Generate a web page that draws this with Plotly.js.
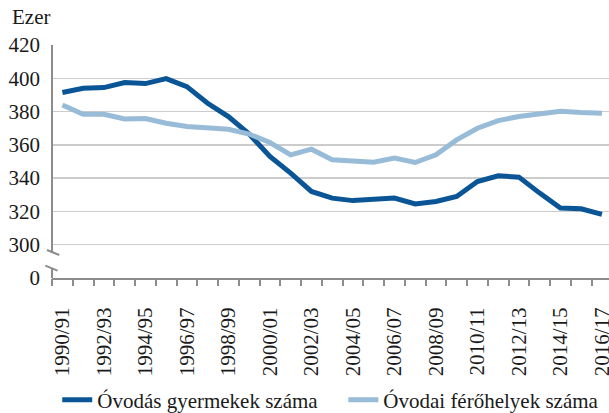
<!DOCTYPE html>
<html>
<head>
<meta charset="utf-8">
<script src="https://cdn.plot.ly/plotly-3.0.1.min.js"></script>
<style>html,body{margin:0;padding:0;background:#fff;}#chart{width:609px;height:413px;}
#chart svg text{font-family:"Liberation Serif",serif !important;}</style>
</head>
<body>
<div id="chart"></div>
<script>
const years = ["1990/91","1991/92","1992/93","1993/94","1994/95","1995/96","1996/97","1997/98","1998/99","1999/00","2000/01","2001/02","2002/03","2003/04","2004/05","2005/06","2006/07","2007/08","2008/09","2009/10","2010/11","2011/12","2012/13","2013/14","2014/15","2015/16","2016/17"];
const gyermekek = [391.5,394,394.4,397.4,396.8,399.8,395,385,377,366.5,353,343,332,328,326.5,327,328,324.5,326,329,338,341.4,340.6,331,322,321.6,318.2];
const ferohelyek = [384,378.4,378.4,375.6,375.8,373,371,370,369.4,366.5,361.4,354,357.4,351,350.4,349.6,352,349.4,354,363,370,374.6,377,378.6,380.2,379.4,379];
const yTickVals = [280,300,320,340,360,380,400,420];
const yTickText = ["0","300","320","340","360","380","400","420"];
const seriesNames = ["Óvodás gyermekek száma","Óvodai férőhelyek száma"];

const idx = years.map((_, i) => i);
const labelIdx = idx.filter(i => i % 2 === 0);
const boundaries = [];
for (let i = 0; i <= years.length; i++) boundaries.push(i - 0.5);

function mkFont(size) { return {family: "Liberation Serif", size: size || 21, color: "#1a1a1a"}; }
const axisGray = "#8c8c8c";

const traces = [
  {x: idx, y: gyermekek, name: seriesNames[0], type: "scatter", mode: "lines",
   line: {color: "#0a5596", width: 5}, legend: "legend"},
  {x: idx, y: ferohelyek, name: seriesNames[1], type: "scatter", mode: "lines",
   line: {color: "#98bcd8", width: 5}, legend: "legend2"},
  {x: [0], y: [350], xaxis: "x2", type: "scatter", mode: "markers", marker: {opacity: 0}, showlegend: false, hoverinfo: "skip"}
];

const xr = [-0.5, 26.34];
const yBreakLow = 286, yBreakHigh = 295.6;
const layout = {
  width: 609, height: 413,
  margin: {l: 52, r: 0, t: 45, b: 135, autoexpand: false},
  paper_bgcolor: "#fff", plot_bgcolor: "#fff",
  font: mkFont(),
  showlegend: true,
  legend: {orientation: "h", x: 0.0094, xanchor: "left", y: -0.524, yanchor: "middle", font: mkFont(),
           bgcolor: "rgba(0,0,0,0)"},
  legend2: {orientation: "h", x: 0.523, xanchor: "left", y: -0.524, yanchor: "middle", font: mkFont(),
            bgcolor: "rgba(0,0,0,0)"},
  xaxis: {range: xr, tickmode: "array", tickvals: labelIdx, ticktext: labelIdx.map(i => years[i]),
          tickangle: -90, ticks: "", showgrid: false, zeroline: false, ticklabeloverflow: "allow",
          ticklabelstandoff: 19,
          showline: true, linecolor: axisGray, linewidth: 2, tickfont: mkFont(), fixedrange: true},
  xaxis2: {range: xr, overlaying: "x", anchor: "y", side: "bottom", tickmode: "array", tickvals: boundaries,
           showticklabels: false, ticks: "outside", ticklen: 7, tickwidth: 2, tickcolor: axisGray,
           showgrid: false, zeroline: false, showline: false},
  yaxis: {range: [280, 420], tickmode: "array", tickvals: yTickVals, ticktext: yTickText,
          ticks: "", showgrid: true, gridcolor: "#cccccc", gridwidth: 1.5, zeroline: false,
          showline: false, tickfont: mkFont(), ticklabelstandoff: 11, fixedrange: true},
  shapes: [
    {type: "line", xref: "paper", yref: "y", x0: 0, x1: 0, y0: 280, y1: yBreakLow, line: {color: axisGray, width: 2}},
    {type: "line", xref: "paper", yref: "y", x0: 0, x1: 0, y0: yBreakHigh, y1: 420, line: {color: axisGray, width: 2}},
    {type: "line", xref: "paper", yref: "y", x0: -0.009, x1: 0.013, y0: 296.8, y1: 293.8, line: {color: axisGray, width: 2}},
    {type: "line", xref: "paper", yref: "y", x0: -0.012, x1: 0.010, y0: 287.4, y1: 284.4, line: {color: axisGray, width: 2}}
  ],
  annotations: [
    {text: "Ezer", xref: "paper", yref: "paper", x: -0.0754, y: 1.12, xanchor: "left", yanchor: "middle",
     showarrow: false, font: mkFont()}
  ]
};

let drawn = false;
function draw() {
  if (drawn) return;
  drawn = true;
  Plotly.newPlot("chart", traces, layout, {displayModeBar: false, staticPlot: true});
}
try {
  if (document.fonts && document.fonts.load) {
    document.fonts.load('21px "Liberation Serif"', 'Ezer 0123456789 Óvodás ő').then(draw, draw);
    setTimeout(draw, 1500);
  } else {
    draw();
  }
} catch (e) {
  draw();
}
</script>
</body>
</html>
